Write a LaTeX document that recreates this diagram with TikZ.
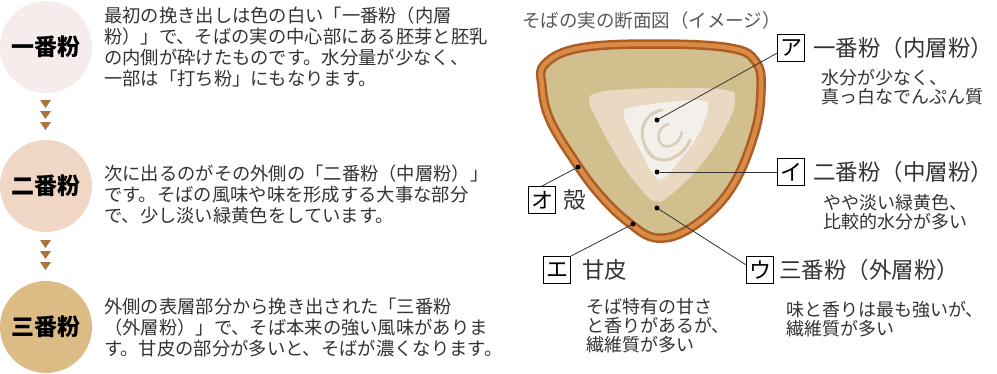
\documentclass[tikz,border=0pt]{standalone}
\usepackage{fontspec}
\setmainfont{Noto Sans CJK JP}
\usepackage{tikz}
\usetikzlibrary{calc}
\definecolor{flourA}{HTML}{F6ECEC}
\definecolor{flourB}{HTML}{F0D6C4}
\definecolor{flourC}{HTML}{DCBB84}
\definecolor{tri}{HTML}{A87440}
\definecolor{husk}{HTML}{AE5C26}
\definecolor{huskin}{HTML}{D88C46}
\definecolor{khaki}{HTML}{D1C08E}
\definecolor{mid}{HTML}{E9D8C2}
\definecolor{core}{HTML}{F3EFEA}
\definecolor{swirl}{HTML}{DCCDB9}
\definecolor{ink}{HTML}{333333}

\begin{document}
\begin{tikzpicture}[x=1pt,y=-1pt]
\tikzstyle{disc}=[circle,minimum size=92pt,inner sep=0,font=\fontsize{23}{23}\selectfont\bfseries]
\tikzstyle{para}=[anchor=west,align=left,inner sep=0,text=ink,font=\fontsize{18.3}{21}\selectfont]
\tikzstyle{kana}=[draw,line width=0.9pt,minimum size=27pt,inner sep=0,font=\fontsize{22}{22}\selectfont]
\tikzstyle{lbl}=[anchor=west,inner sep=0,text=ink,font=\fontsize{22.5}{23}\selectfont]
\tikzstyle{note}=[anchor=west,align=left,inner sep=0,text=ink,font=\fontsize{18}{19}\selectfont]
\tikzstyle{bead}=[circle,fill=black,inner sep=0,minimum size=5pt]
\tikzstyle{conn}=[draw=ink,line width=0.8pt]
\useasboundingbox (0,0) rectangle (997,373);

\node[disc,fill=flourA] (p1) at (46,47) {一番粉};
\node[disc,fill=flourB] (p2) at (46,186) {二番粉};
\node[disc,fill=flourC] (p3) at (46,327) {三番粉};
\foreach \y in {100,111,122,240,251,262}
  \fill[tri] (40,\y) -- (51,\y) -- (45.5,\y+8) -- cycle;

\node[para] (t1) at (104,47) {最初の挽き出しは色の白い「一番粉（内層\\粉）」で、そばの実の中心部にある胚芽と胚乳\\の内側が砕けたものです。水分量が少なく、\\一部は「打ち粉」にもなります。};
\node[para] (t2) at (104,194) {次に出るのがその外側の「二番粉（中層粉）」\\です。そばの風味や味を形成する大事な部分\\で、少し淡い緑黄色をしています。};
\node[para] (t3) at (104,328) {外側の表層部分から挽き出された「三番粉\\（外層粉）」で、そば本来の強い風味がありま\\す。甘皮の部分が多いと、そばが濃くなります。};

\node[anchor=west,inner sep=0,text=black!65,font=\fontsize{18.5}{19}\selectfont] (title) at (522,20) {そばの実の断面図（イメージ）};

\draw[fill=khaki,draw=husk,line width=2.5pt,double=huskin,double distance=4.5pt]
  plot[smooth cycle,tension=0.65] coordinates {(545,64) (580,48) (655,44) (730,48) (756,62) (761,90) (754,135) (730,190) (692,227) (657,238) (628,222) (600,195) (576,163) (550,120) (542,86)};
\fill[mid] plot[smooth cycle,tension=0.7] coordinates {(596,93) (630,89) (680,88) (726,90) (735,99) (727,125) (700,166) (668,197) (656,201) (645,194) (619,160) (597,120) (589,102)};
\fill[core] plot[smooth cycle,tension=0.7] coordinates {(628,108) (660,103) (700,100) (708,108) (698,135) (680,160) (664,178) (654,175) (640,150) (626,122) (624,112)};
\draw[swirl,line width=3pt,line cap=round] (662,110) .. controls (640,114) and (636,140) .. (652,156) .. controls (664,166) and (684,156) .. (690,140);
\draw[swirl,line width=2.5pt,line cap=round] (668,124) .. controls (656,128) and (656,142) .. (664,146) .. controls (672,148) and (680,142) .. (682,132);

\node[bead] (dA) at (657,120) {};
\node[bead] (dI) at (657,172) {};
\node[bead] (dU) at (657,208) {};
\node[bead] (dE) at (633,224) {};
\node[bead] (dO) at (578,167) {};

\node[kana] (kA) at (791,48) {ア};
\node[lbl] (lA) at (813,48) {一番粉（内層粉）};
\node[note] (nA) at (821,87) {水分が少なく、\\真っ白なでんぷん質};
\node[kana] (kI) at (791,172) {イ};
\node[lbl] (lI) at (813,172) {二番粉（中層粉）};
\node[note] (nI) at (823,212) {やや淡い緑黄色、\\比較的水分が多い};
\node[kana] (kO) at (542,200) {オ};
\node[lbl] (lO) at (563,200) {殻};
\node[kana] (kE) at (557,270) {エ};
\node[lbl] (lE) at (582,270) {甘皮};
\node[note] (nE) at (586,326) {そば特有の甘さ\\と香りがあるが、\\繊維質が多い};
\node[kana] (kU) at (760,270) {ウ};
\node[lbl] (lU) at (779,270) {三番粉（外層粉）};
\node[note] (nU) at (786,319) {味と香りは最も強いが、\\繊維質が多い};

\draw[conn] (dA) -- (kA.200);
\draw[conn] (dI) -- (kI.west);
\draw[conn] (dU) -- (kU.160);
\draw[conn] (dE) -- (kE.north east);
\draw[conn] (dO) -- (kO.north);
\end{tikzpicture}
\end{document}
